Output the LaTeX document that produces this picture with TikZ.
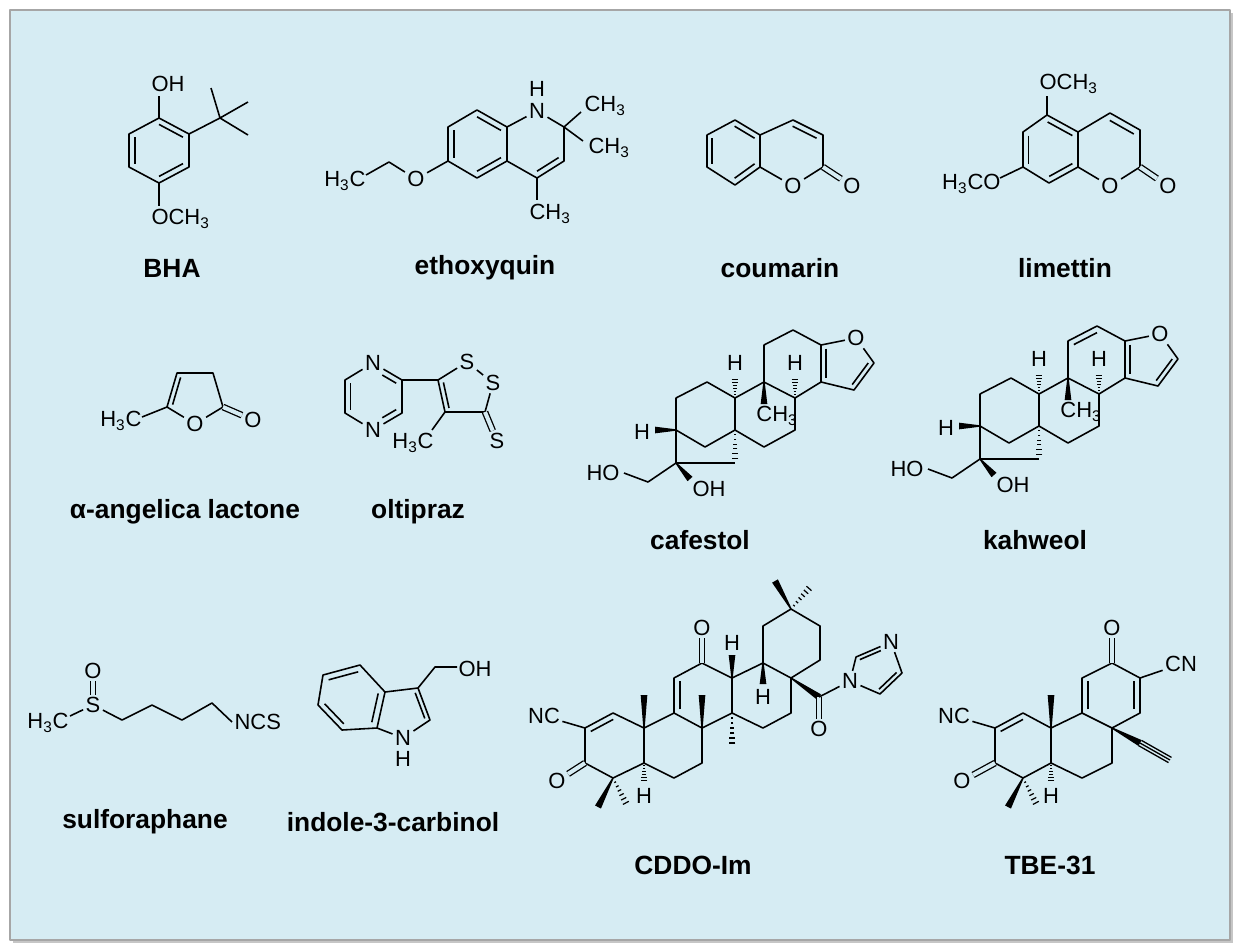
\documentclass[tikz,border=0pt]{standalone}
\usepackage{fontspec}
\setmainfont{Liberation Sans}
\usetikzlibrary{calc}
\definecolor{bg}{RGB}{214,236,243}
\newcommand\ind[3]{\draw ($(#1)!0.2!(#3)$) -- ($(#2)!0.2!(#3)$);}
\newcommand\wdg[2]{\fill ($(#1)!0.4pt!90:(#2)$) -- ($(#2)!1.9pt!-90:(#1)$) -- ($(#2)!1.9pt!90:(#1)$) -- ($(#1)!0.4pt!-90:(#2)$) -- cycle;}
\newcommand\hsh[2]{\foreach \i in {1,...,6}{\coordinate (hh) at ($(#1)!{\i/7}!(#2)$); \draw[line width=0.7pt] ($(hh)!{0.3pt+0.27pt*\i}!90:(#2)$) -- ($(hh)!{0.3pt+0.27pt*\i}!-90:(#2)$);}}
\newcommand\sub[1]{\textsubscript{#1}}
\newcommand\steroid{%
  \coordinate (a1) at (676,398); \coordinate (a2) at (707,382); \coordinate (a3) at (735,398);
  \coordinate (a4) at (735,430); \coordinate (a5) at (705,447); \coordinate (a6) at (676,430);
  \coordinate (bb2) at (764,382); \coordinate (bb3) at (795,398); \coordinate (bb4) at (795,430); \coordinate (bb5) at (764,447);
  \coordinate (cc2) at (764,345); \coordinate (cc3) at (793,330); \coordinate (cc4) at (821,345); \coordinate (cc5) at (821,382);
  \coordinate (ccC) at (793,363);
  \coordinate (f3) at (874,363); \coordinate (f4) at (854,390); \coordinate (fc) at (845,363);
  \coordinate (br1) at (676,463); \coordinate (br2) at (735,463);
  \node[a] (fO) at (856,338) {O};
  \draw (a1)--(a2)--(a3)--(a4)--(a5)--(a6)--cycle;
  \draw (a3)--(bb2)--(bb3)--(bb4)--(bb5)--(a4);
  \draw (bb2)--(cc2)--(cc3)--(cc4)--(cc5)--(bb3);
  \draw (cc4)--(fO)--(f3)--(f4)--(cc5);
  \ind{cc4}{cc5}{fc} \ind{f3}{f4}{fc}
  \draw (a6)--(br1)--(br2);
  \hsh{a4}{br2}
  \wdg{a6}{655,430} \node[a] at (642,432) {H};
  \draw (br1) -- (648,482) -- (624,473); \node[a] at (603,473) {HO};
  \wdg{br1}{690,479} \node[a] at (709,489) {OH};
  \hsh{a3}{735,376} \node[a] at (735,363) {H};
  \hsh{bb3}{795,376} \node[a] at (795,363) {H};
  \wdg{bb2}{764,404} \node[a] at (777,416) {CH\sub{3}};
}
\begin{document}
\begin{tikzpicture}[x=0.02cm,y=-0.02cm,line width=0.9pt,line join=round,
  a/.style={font=\fontsize{12.5}{13}\selectfont,inner sep=1pt},
  nm/.style={font=\fontsize{15}{17}\selectfont\bfseries},
  dbl/.style={double=bg,double distance=2.3pt,line width=0.75pt}]
\useasboundingbox (0,0) rectangle (1240,951);
\fill[white] (0,0) rectangle (1240,951);
\fill[gray!45] (13,13) rectangle (1233,943);
\draw[fill=bg,draw=gray!70,line width=0.6pt] (10,10) rectangle (1230,940);

% ---------- BHA
\coordinate (b1) at (159,118); \coordinate (b2) at (189,134); \coordinate (b3) at (189,167);
\coordinate (b4) at (159,183); \coordinate (b5) at (129,167); \coordinate (b6) at (129,134); \coordinate (bc) at (159,150);
\draw (b1)--(b2)--(b3)--(b4)--(b5)--(b6)--cycle;
\ind{b5}{b6}{bc} \ind{b1}{b2}{bc} \ind{b3}{b4}{bc}
\draw (b1) -- (159,96); \node[a,anchor=west] at (149,84) {OH};
\coordinate (tb) at (220,118);
\draw (b2)--(tb) (tb)--(211,88) (tb)--(248,102) (tb)--(248,135);
\draw (b4) -- (159,206); \node[a,anchor=west] at (149,219) {OCH\sub{3}};
\node[nm] at (172,268) {BHA};

% ---------- ethoxyquin
\coordinate (e1) at (477,110); \coordinate (e2) at (507,127); \coordinate (e3) at (507,161);
\coordinate (e4) at (477,178); \coordinate (e5) at (448,161); \coordinate (e6) at (448,127); \coordinate (ec) at (477,144);
\coordinate (f2) at (564,127); \coordinate (ff3) at (564,161); \coordinate (ff4) at (537,178); \coordinate (ffc) at (537,144);
\draw (e1)--(e2)--(e3)--(e4)--(e5)--(e6)--cycle;
\ind{e5}{e6}{ec} \ind{e1}{e2}{ec} \ind{e3}{e4}{ec}
\node[a] (eN) at (537,111) {N}; \node[a] at (537,89) {H};
\draw (e2)--(eN)--(f2)--(ff3)--(ff4)--(e3);
\ind{ff3}{ff4}{ffc}
\draw (f2)--(581,112) (f2)--(583,141);
\node[a,anchor=west] at (582,106) {CH\sub{3}};
\node[a,anchor=west] at (586,148) {CH\sub{3}};
\draw (ff4) -- (537,200); \node[a,anchor=west] at (527,214) {CH\sub{3}};
\node[a] (eO) at (416,179) {O};
\draw (e5)--(eO)--(389,162)--(366,175);
\node[a,anchor=east] at (368,181) {H\sub{3}C};
\node[nm] at (485,268) {ethoxyquin};

% ---------- coumarin
\coordinate (c1) at (735,120); \coordinate (c2) at (760,135); \coordinate (c3) at (760,167);
\coordinate (c4) at (735,185); \coordinate (c5) at (707,167); \coordinate (c6) at (707,135); \coordinate (cc) at (733,151);
\coordinate (d1) at (793,120); \coordinate (d2) at (823,135); \coordinate (d3) at (823,167); \coordinate (dc) at (791,151);
\draw (c1)--(c2)--(c3)--(c4)--(c5)--(c6)--cycle;
\ind{c6}{c5}{cc} \ind{c1}{c2}{cc} \ind{c3}{c4}{cc}
\node[a] (cO) at (793,186) {O};
\draw (c2)--(d1)--(d2)--(d3)--(cO)--(c3);
\ind{d1}{d2}{dc}
\node[a] (cO2) at (852,186) {O};
\draw[dbl] (d3)--(cO2);
\node[nm] at (780,268) {coumarin};

% ---------- limettin
\coordinate (l1) at (1047,115); \coordinate (l2) at (1078,132); \coordinate (l3) at (1078,167);
\coordinate (l4) at (1049,183); \coordinate (l5) at (1023,167); \coordinate (l6) at (1023,132); \coordinate (lc) at (1050,150);
\coordinate (m1) at (1110,113); \coordinate (m2) at (1140,130); \coordinate (m3) at (1140,167); \coordinate (mc) at (1109,150);
\draw (l1)--(l2)--(l3)--(l4)--(l5)--(l6)--cycle;
\ind{l6}{l5}{lc} \ind{l1}{l2}{lc} \ind{l3}{l4}{lc}
\node[a] (lO) at (1110,186) {O};
\draw (l2)--(m1)--(m2)--(m3)--(lO)--(l3);
\ind{m1}{m2}{mc}
\node[a] (lO2) at (1168,186) {O};
\draw[dbl] (m3)--(lO2);
\draw (l1) -- (1047,96); \node[a,anchor=west] at (1037,84) {OCH\sub{3}};
\draw (l5) -- (1000,178); \node[a,anchor=east] at (1003,184) {H\sub{3}CO};
\node[nm] at (1065,268) {limettin};

% ---------- alpha-angelica lactone
\coordinate (g5) at (167,407); \coordinate (g4) at (177,373); \coordinate (g3) at (213,373);
\coordinate (g2) at (223,407); \coordinate (gc) at (195,395);
\node[a] (gO) at (195,424) {O};
\draw (gO)--(g5)--(g4)--(g3)--(g2)--(gO);
\ind{g5}{g4}{gc}
\draw (g5)--(142,417); \node[a,anchor=east] at (144,421) {H\sub{3}C};
\node[a] (gO2) at (253,420) {O};
\draw[dbl] (g2)--(gO2);
\node[nm] at (185,512) {α-angelica lactone};

% ---------- oltipraz
\coordinate (pn1) at (373,363); \coordinate (p2) at (402,380); \coordinate (p3) at (402,413);
\coordinate (pn4) at (373,430); \coordinate (p5) at (345,413); \coordinate (p6) at (345,380); \coordinate (pc) at (373,396);
\node[a] (N1) at (pn1) {N}; \node[a] (N4) at (pn4) {N};
\draw (N1)--(p2)--(p3)--(N4)--(p5)--(p6)--(N1);
\ind{p5}{p6}{pc}
\draw ($(pn1)!0.4!(p2)!0.2!(pc)$) -- ($(p2)!0.2!(pc)$);
\draw ($(pn4)!0.4!(p3)!0.2!(pc)$) -- ($(p3)!0.2!(pc)$);
\coordinate (q5) at (438,380); \coordinate (q3) at (485,412); \coordinate (q4) at (445,412); \coordinate (qc) at (465,392);
\node[a] (S1) at (467,362) {S}; \node[a] (S2) at (493,383) {S};
\draw (p2)--(q5)--(S1)--(S2)--(q3)--(q4)--(q5);
\ind{q4}{q5}{qc}
\node[a] (S3) at (497,441) {S};
\draw[dbl] (q3)--(S3);
\draw (q4)--(432,430); \node[a] at (413,443) {H\sub{3}C};
\node[nm] at (418,512) {oltipraz};

% ---------- cafestol / kahweol
\steroid
\node[nm] at (700,540) {cafestol};
\begin{scope}[shift={(304,-4)}]
\steroid
\ind{cc2}{cc3}{ccC}
\end{scope}
\node[nm] at (1035,540) {kahweol};

% ---------- sulforaphane
\node[a] at (48,723) {H\sub{3}C};
\node[a] (sS) at (93,705) {S};
\node[a] (sO) at (93,671) {O};
\draw (70,716)--(sS);
\draw[dbl] (sS)--(sO);
\node[a,anchor=west] (NCS) at (232,722) {NCS};
\draw (sS)--(122,720)--(152,705)--(182,720)--(212,703)--(NCS.west);
\node[nm] at (145,822) {sulforaphane};

% ---------- indole-3-carbinol
\coordinate (ib1) at (323,675); \coordinate (ib2) at (360,665); \coordinate (ib3) at (385,692);
\coordinate (ib4) at (377,728); \coordinate (ib5) at (342,730); \coordinate (ib6) at (318,705); \coordinate (ibc) at (351,699);
\coordinate (ip3) at (418,688); \coordinate (ip2) at (430,720); \coordinate (ipc) at (404,712);
\draw (ib1)--(ib2)--(ib3)--(ib4)--(ib5)--(ib6)--cycle;
\ind{ib1}{ib2}{ibc} \ind{ib3}{ib4}{ibc} \ind{ib5}{ib6}{ibc}
\node[a] (iN) at (403,738) {N}; \node[a] at (403,759) {H};
\draw (ib3)--(ip3)--(ip2)--(iN)--(ib4);
\ind{ip3}{ip2}{ipc}
\draw (ip3)--(435,667)--(457,667); \node[a,anchor=west] at (456,669) {OH};
\node[nm] at (393,822) {indole-3-carbinol};

% ---------- CDDO-Im
\coordinate (k1) at (585,728); \coordinate (k2) at (613,713); \coordinate (k3) at (644,728);
\coordinate (k4) at (644,763); \coordinate (k5) at (613,778); \coordinate (k6) at (585,763); \coordinate (kA) at (614,745);
\coordinate (k7) at (674,713); \coordinate (k8) at (702,728); \coordinate (k9) at (702,763); \coordinate (k10) at (674,778);
\coordinate (k11) at (674,678); \coordinate (k12) at (702,663); \coordinate (k13) at (732,678); \coordinate (k14) at (732,713); \coordinate (kC) at (703,695);
\coordinate (k15) at (763,663); \coordinate (k16) at (791,678); \coordinate (k17) at (791,713); \coordinate (k18) at (763,728);
\coordinate (k19) at (763,626); \coordinate (k20) at (791,609); \coordinate (k21) at (820,626); \coordinate (k22) at (820,660);
\draw (k1)--(k2)--(k3)--(k4)--(k5)--(k6)--cycle;
\draw (k3)--(k7)--(k8)--(k9)--(k10)--(k4);
\draw (k7)--(k11)--(k12)--(k13)--(k14)--(k8);
\draw (k13)--(k15)--(k16)--(k17)--(k18)--(k14);
\draw (k15)--(k19)--(k20)--(k21)--(k22)--(k16);
\ind{k1}{k2}{kA} \ind{k7}{k11}{kC}
\node[a] (kNC) at (544,716) {NC}; \draw (k1)--(kNC);
\node[a] (kO1) at (557,781) {O}; \draw[dbl] (k6)--(kO1);
\wdg{k5}{598,807} \hsh{k5}{628,807}
\hsh{k4}{644,783} \node[a] at (644,796) {H};
\wdg{k3}{644,695}
\wdg{k8}{702,695}
\node[a] (kO2) at (702,628) {O}; \draw[dbl] (k12)--(kO2);
\hsh{k14}{732,748}
\wdg{k13}{732,655} \node[a] at (732,643) {H};
\wdg{k15}{763,684} \node[a] at (763,697) {H};
\wdg{k20}{775,581} \hsh{k20}{812,585}
\coordinate (kam) at (819,697);
\wdg{k16}{kam}
\node[a] (kO3) at (819,729) {O}; \draw[dbl] (kam)--(kO3);
\node[a] (kN) at (850,681) {N};
\coordinate (i2) at (856,657); \coordinate (i4) at (902,673); \coordinate (i5) at (880,694); \coordinate (ic) at (875,670);
\node[a] (kN3) at (891,642) {N};
\draw (kam)--(kN)--(i2)--(kN3)--(i4)--(i5)--(kN);
\draw ($(i2)!0.2!(ic)$) -- ($(i2)!0.75!(kN3)!0.2!(ic)$);
\ind{i4}{i5}{ic}
\node[nm] at (693,865) {CDDO-Im};

% ---------- TBE-31
\coordinate (t1) at (995,728); \coordinate (t2) at (1023,713); \coordinate (t3) at (1051,728);
\coordinate (t4) at (1051,763); \coordinate (t5) at (1023,778); \coordinate (t6) at (995,763); \coordinate (tA) at (1023,745);
\coordinate (t7) at (1082,713); \coordinate (t8) at (1112,728); \coordinate (t9) at (1112,763); \coordinate (t10) at (1082,778);
\coordinate (t11) at (1082,678); \coordinate (t12) at (1112,663); \coordinate (t13) at (1140,678); \coordinate (t14) at (1140,713); \coordinate (tC) at (1111,695);
\draw (t1)--(t2)--(t3)--(t4)--(t5)--(t6)--cycle;
\draw (t3)--(t7)--(t8)--(t9)--(t10)--(t4);
\draw (t7)--(t11)--(t12)--(t13)--(t14)--(t8);
\ind{t1}{t2}{tA} \ind{t7}{t11}{tC} \ind{t13}{t14}{tC}
\node[a] (tNC) at (954,716) {NC}; \draw (t1)--(tNC);
\node[a] (tO1) at (962,781) {O}; \draw[dbl] (t6)--(tO1);
\wdg{t5}{1008,807} \hsh{t5}{1038,807}
\hsh{t4}{1051,783} \node[a] at (1051,796) {H};
\wdg{t3}{1051,695}
\node[a] (tO2) at (1112,628) {O}; \draw[dbl] (t12)--(tO2);
\node[a] (tCN) at (1181,664) {CN}; \draw (t13)--(tCN);
\coordinate (ty) at (1140,743);
\wdg{t8}{ty}
\draw[line width=0.75pt] (ty)--(1170,760) (1141.5,740.4)--(1171.5,757.4) (1138.5,745.6)--(1168.5,762.6);
\node[nm] at (1050,865) {TBE-31};
\end{tikzpicture}
\end{document}
